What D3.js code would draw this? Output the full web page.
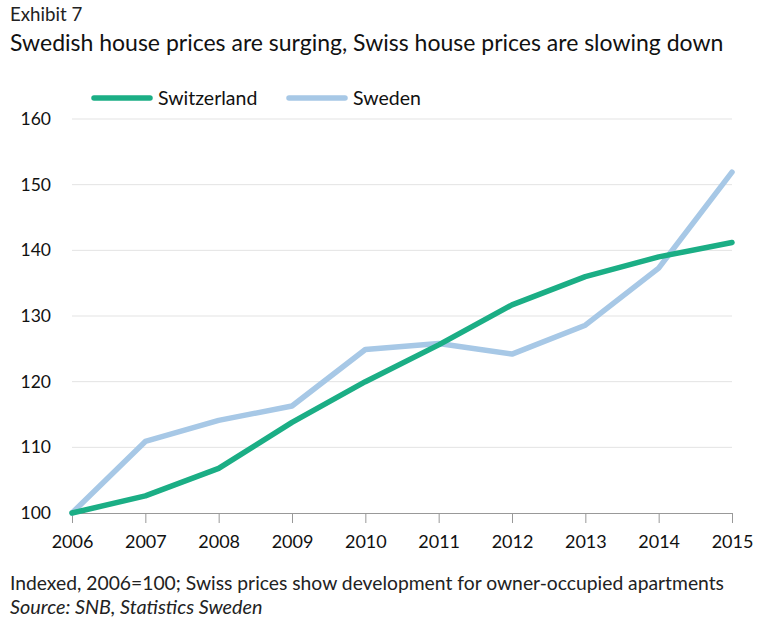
<!DOCTYPE html>
<html><head><meta charset="utf-8">
<script src="https://cdn.jsdelivr.net/npm/d3@7"></script>
<style>
body{margin:0;background:#fff;}
svg{display:block;font-family:Lato,"Open Sans",sans-serif;}
</style></head><body>
<svg id="c" width="764" height="634"></svg>
<script>
const years = [2006,2007,2008,2009,2010,2011,2012,2013,2014,2015];
const switzerland = [100,102.6,106.8,113.8,120.0,125.6,131.7,136.0,139.0,141.2];
const sweden = [100,110.9,114.1,116.3,124.9,125.8,124.2,128.6,137.3,151.9];
const yTicks = [100,110,120,130,140,150,160];
const seriesNames = ["Switzerland","Sweden"];
const seriesColors = ["#1bae85","#a7c8e6"];

const svg = d3.select("#c");
const x = d3.scaleLinear().domain([2006,2015]).range([72,732]);
const y = d3.scaleLinear().domain([100,160]).range([513,119]);

svg.append("text").attr("x",10).attr("y",21).attr("font-size",18.7).attr("fill","#222").text("Exhibit 7");
svg.append("text").attr("x",10).attr("y",51).attr("font-size",23).attr("fill","#111").text("Swedish house prices are surging, Swiss house prices are slowing down");

// gridlines
svg.append("g").selectAll("line").data(yTicks.filter(d=>d>100)).join("line")
  .attr("x1",72).attr("x2",732).attr("y1",d=>y(d)).attr("y2",d=>y(d))
  .attr("stroke","#e3e3e3").attr("stroke-width",1);

// y labels
svg.append("g").selectAll("text").data(yTicks).join("text")
  .attr("x",51).attr("y",d=>y(d)+6).attr("text-anchor","end")
  .attr("font-size",17.5).attr("fill","#111").text(d=>d);

// x axis
const xAxis = d3.axisBottom(x).tickValues(years).tickFormat(d3.format("d")).tickSize(10).tickPadding(8);
const gx = svg.append("g").attr("transform",`translate(0,${y(100)})`).call(xAxis);
gx.select(".domain").attr("stroke","#999");
gx.selectAll(".tick line").attr("stroke","#999");
gx.selectAll(".tick text").attr("font-size",18).attr("fill","#111").attr("font-family","Lato,'Open Sans',sans-serif").attr("dy","0.92em");

// lines
const line = d3.line().x((d,i)=>x(years[i])).y(d=>y(d));
[sweden, switzerland].forEach((s,k)=>{
  const col = k===0 ? seriesColors[1] : seriesColors[0];
  svg.append("path").datum(s).attr("d",line).attr("fill","none")
    .attr("stroke",col).attr("stroke-width",5.5).attr("stroke-linejoin","round").attr("stroke-linecap","round");
});

// legend
const leg = [{n:seriesNames[0],c:seriesColors[0],x:92},{n:seriesNames[1],c:seriesColors[1],x:287}];
leg.forEach(l=>{
  svg.append("line").attr("x1",l.x+2).attr("x2",l.x+58).attr("y1",98).attr("y2",98)
    .attr("stroke",l.c).attr("stroke-width",5.5).attr("stroke-linecap","round");
  svg.append("text").attr("x",l.x+66).attr("y",105).attr("font-size",19.5).attr("fill","#111").text(l.n);
});

svg.append("text").attr("x",10).attr("y",590).attr("font-size",19.3).attr("fill","#222")
  .text("Indexed, 2006=100; Swiss prices show development for owner-occupied apartments");
svg.append("text").attr("x",10).attr("y",614).attr("font-size",19.8).attr("font-style","italic").attr("fill","#222")
  .text("Source: SNB, Statistics Sweden");
</script></body></html>
